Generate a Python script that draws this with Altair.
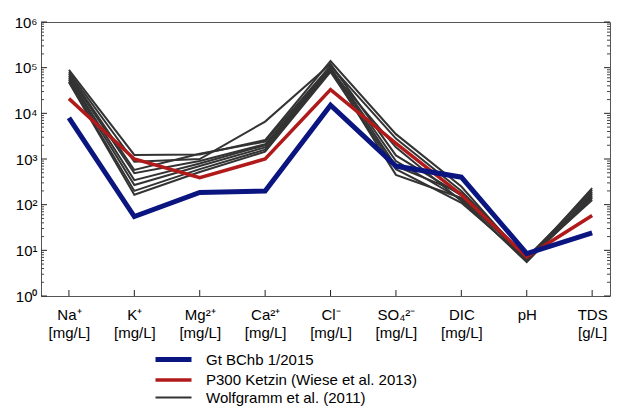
import altair as alt
import pandas as pd

categories = ["Na⁺|[mg/L]", "K⁺|[mg/L]", "Mg²⁺|[mg/L]", "Ca²⁺|[mg/L]", "Cl⁻|[mg/L]",
              "SO₄²⁻|[mg/L]", "DIC|[mg/L]", "pH", "TDS|[g/L]"]

series_names = ["Gt BChb 1/2015", "P300 Ketzin (Wiese et al. 2013)", "Wolfgramm et al. (2011)"]

gt_bchb = [8000, 55, 185, 200, 15000, 700, 400, 8.5, 24]
p300 = [21000, 1000, 390, 1000, 33000, 2200, 165, 7.2, 58]

wolfgramm = [
    [89000, 1230, 1250, 2600, 140000, 3500, 250, 6.0, 230],
    [80000, 870, 1000, 6600, 120000, 1200, 160, 6.5, 210],
    [73000, 575, 1300, 2400, 110000, 2800, 200, 7.0, 190],
    [66000, 490, 900, 2100, 100000, 900, 130, 5.5, 175],
    [60000, 345, 800, 2000, 95000, 700, 180, 6.2, 160],
    [55000, 270, 700, 1800, 90000, 450, 140, 6.8, 150],
    [50000, 200, 600, 1600, 85000, 1800, 120, 5.8, 140],
    [48000, 165, 520, 1450, 81000, 600, 110, 6.4, 126],
]

major_ticks = [1, 10, 100, 1000, 10000, 100000, 1000000]
minor_ticks = [k * 10 ** e for e in range(6) for k in range(2, 10)]

colors = ["#0a1580", "#b01a1a", "#333333"]
widths = [5, 2, 0.9]

rows = []
for i, v in enumerate(gt_bchb):
    rows.append({"series": series_names[0], "id": "gt", "cat": categories[i], "value": v})
for i, v in enumerate(p300):
    rows.append({"series": series_names[1], "id": "p300", "cat": categories[i], "value": v})
for j, line in enumerate(wolfgramm):
    for i, v in enumerate(line):
        rows.append({"series": series_names[2], "id": f"w{j}", "cat": categories[i], "value": v})
df = pd.DataFrame(rows)
df_major = pd.DataFrame({"value": major_ticks})
df_minor = pd.DataFrame({"value": minor_ticks})
df_cats = pd.DataFrame({"cat": categories})

FONT = "Liberation Sans"

x_scale = alt.Scale(type="point", padding=0.35, align=0.61, domain=categories)
x_axis = alt.Axis(title=None, labelAngle=0, labelExpr="split(datum.label, '|')",
                  labelFont=FONT, labelFontSize=15, labelColor="black",
                  labelPadding=11, labelLineHeight=18, labelBaseline="top",
                  ticks=False, domain=False, grid=False)
x_enc = alt.X("cat:N", sort=categories, scale=x_scale, axis=x_axis)

yscale = alt.Scale(type="log", domain=[1, 1000000], nice=False)
y_axis = alt.Axis(title=None, orient="left", values=major_ticks, grid=False, ticks=False,
                  domain=False,
                  labelExpr="'10' + ['⁰','¹','²','³','⁴','⁵','⁶'][round(log(datum.value)/LN10)]",
                  labelFont=FONT, labelFontSize=15, labelColor="black", labelPadding=4)
y_enc = alt.Y("value:Q", scale=yscale, axis=y_axis)

legend = alt.Legend(title=None, orient="none", legendX=124, legendY=329, direction="vertical",
                    symbolType="M-3,0H3", symbolSize=144, labelFont=FONT, labelFontSize=15,
                    labelColor="black", labelOffset=24, rowPadding=2, padding=0, labelLimit=400,
                    symbolFillColor="transparent")

color_enc = alt.Color("series:N", scale=alt.Scale(domain=series_names, range=colors), legend=legend)
width_enc = alt.StrokeWidth("series:N", scale=alt.Scale(domain=series_names, range=widths), legend=legend)

base = alt.Chart(df)

l_black = base.transform_filter(alt.datum.series == series_names[2]).mark_line().encode(
    x=x_enc, y=y_enc, color=color_enc, strokeWidth=width_enc, detail="id:N")
l_red = base.transform_filter(alt.datum.series == series_names[1]).mark_line().encode(
    x=x_enc, y=y_enc, color=color_enc, strokeWidth=width_enc, detail="id:N")
l_blue = base.transform_filter(alt.datum.series == series_names[0]).mark_line().encode(
    x=x_enc, y=y_enc, color=color_enc, strokeWidth=width_enc, detail="id:N")

# inward tick marks (left, right, bottom)
tick_major_left = alt.Chart(df_major).mark_rule(color="#222", strokeWidth=1).encode(
    y=y_enc, x=alt.value(0), x2=alt.value(6))
tick_minor_left = alt.Chart(df_minor).mark_rule(color="#444", strokeWidth=1).encode(
    y=y_enc, x=alt.value(0), x2=alt.value(3))
tick_major_right = alt.Chart(df_major).mark_rule(color="#222", strokeWidth=1).encode(
    y=y_enc, x=alt.value("width"), x2=alt.value({"expr": "width - 6"}))
tick_minor_right = alt.Chart(df_minor).mark_rule(color="#444", strokeWidth=1).encode(
    y=y_enc, x=alt.value("width"), x2=alt.value({"expr": "width - 3"}))
tick_x = alt.Chart(df_cats).mark_rule(color="#222", strokeWidth=1).encode(
    x=x_enc, y=alt.value("height"), y2=alt.value({"expr": "height - 6"}))

chart = alt.layer(
    l_black, l_red, l_blue,
    tick_minor_left, tick_major_left, tick_minor_right, tick_major_right, tick_x,
).properties(
    width=569, height=274,
    autosize=alt.AutoSizeParams(type="none"),
    padding={"left": 33, "top": 14, "right": 1, "bottom": 110},
    background="white",
).configure_view(stroke="#555", strokeWidth=1)

chart.save("out.html", embed_options={"renderer": "svg", "actions": False})
